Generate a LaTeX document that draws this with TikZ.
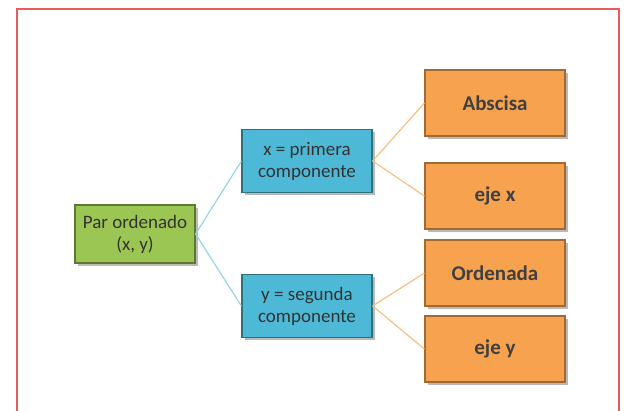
\documentclass[tikz,border=0pt]{standalone}
\usepackage{fontspec}
\setmainfont{Carlito}
\usetikzlibrary{shadows}
\definecolor{verde}{HTML}{9CC653}
\definecolor{azul}{HTML}{4DB9D6}
\definecolor{naranja}{HTML}{F7A24E}
\definecolor{marco}{HTML}{E85A5C}

\begin{document}
\begin{tikzpicture}[x=1pt,y=-1pt,
  caja/.style={draw,rectangle,line width=1.2pt,align=center,inner sep=1pt,
    font=\fontsize{19}{22}\selectfont,text=black!80,
    drop shadow={shadow xshift=2.5pt,shadow yshift=-2.5pt,opacity=0.55}},
  cajaverde/.style={caja,fill=verde,draw=verde!60!black,minimum width=120pt,minimum height=58pt},
  cajaazul/.style={caja,fill=azul,draw=azul!60!black,minimum width=130pt,minimum height=63pt},
  cajanaranja/.style={caja,fill=naranja,draw=naranja!65!black,minimum width=140pt,minimum height=66pt,
    font=\fontsize{21}{24}\selectfont\bfseries,text=black!75},
  lineaazul/.style={draw=azul!60,line width=1.2pt},
  lineanaranja/.style={draw=naranja!70,line width=1.2pt}]
\useasboundingbox (0,0) rectangle (627,410);
\draw[marco,line width=2.5pt] (17,430) -- (17,9) -- (619,9) -- (619,430);

\node[cajaverde] (par) at (135,234) {Par ordenado\\(x, y)};
\node[cajaazul] (primera) at (307,161) {x = primera\\componente};
\node[cajaazul] (segunda) at (307,306) {y = segunda\\componente};

\node[cajanaranja] (abscisa) at (495,103) {Abscisa};
\node[cajanaranja] (ejex) at (495,196) {eje x};
\node[cajanaranja] (ordenada) at (495,273) {Ordenada};
\node[cajanaranja] (ejey) at (495,349) {eje y};

\draw[lineaazul] (par.east) -- (primera.west);
\draw[lineaazul] (par.east) -- (segunda.west);
\draw[lineanaranja] (primera.east) -- (abscisa.west);
\draw[lineanaranja] (primera.east) -- (ejex.west);
\draw[lineanaranja] (segunda.east) -- (ordenada.west);
\draw[lineanaranja] (segunda.east) -- (ejey.west);

\end{tikzpicture}
\end{document}
